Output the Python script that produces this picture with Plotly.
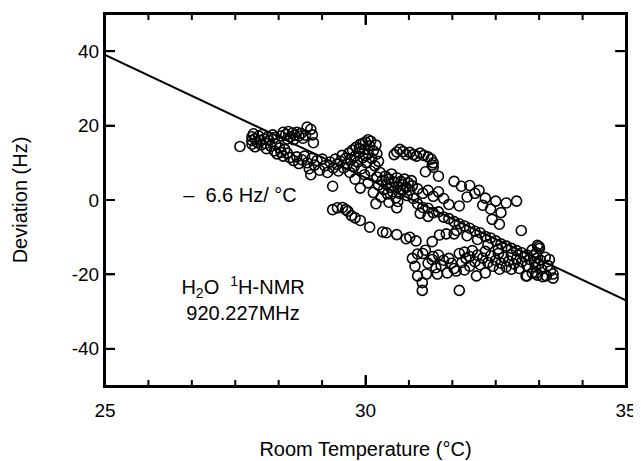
import plotly.graph_objects as go

# ---- measured data (room temperature in degC, deviation in Hz) ----
temp_c = [
    27.59, 27.82, 27.82, 27.82, 27.85, 27.88, 27.88, 27.92, 27.95, 27.98,
    28.00, 28.02, 28.05, 28.08, 28.10, 28.12, 28.15, 28.18, 28.22, 28.25,
    28.28, 28.30, 28.35, 28.38, 28.42, 28.45, 28.50, 28.55, 28.25,
    28.38, 28.42, 28.47, 28.52, 28.56, 28.60, 28.64, 28.68, 28.72, 28.76,
    28.80, 28.85, 28.88, 28.95, 28.98, 29.00, 28.62, 28.50,
    28.62, 28.68, 28.72, 28.78, 28.83, 28.88, 28.92, 28.97, 29.02, 29.07,
    29.12, 29.17, 29.22, 29.27, 28.95, 29.32, 29.38, 29.42, 29.45, 29.48,
    29.52, 29.55, 29.58, 29.62, 29.65, 29.68, 29.70, 29.72, 29.75, 29.78,
    29.80, 29.82, 29.85, 29.88, 29.90, 29.92, 29.95, 29.98, 30.00, 30.02,
    30.05, 30.08, 30.10, 30.12, 30.15, 30.18, 30.20, 29.95, 30.05, 29.88,
    30.00, 30.22, 30.25, 29.37,
    30.55, 30.60, 30.66, 30.72, 30.78, 30.85, 30.92, 30.98, 31.05, 31.12,
    31.20, 31.26, 31.30, 31.30, 31.15, 31.40, 31.28,
    30.22, 30.25, 30.28, 30.32, 30.35, 30.38, 30.40, 30.42, 30.45, 30.48,
    30.50, 30.52, 30.55, 30.58, 30.60, 30.62, 30.65, 30.68, 30.70, 30.72,
    30.75, 30.78, 30.80, 30.82, 30.85, 30.88, 30.90, 30.92, 30.62, 30.45,
    30.30, 30.15, 30.05, 29.98, 29.90, 29.80, 30.10, 30.20, 30.60,
    29.37, 29.46, 29.56, 29.62, 29.66, 29.73, 29.80, 29.90, 30.08, 30.33,
    30.60, 30.78, 30.97, 31.28, 31.42, 31.55, 31.70, 30.40, 30.85,
    30.90, 30.95, 31.00, 31.09, 31.09, 31.10, 31.28, 31.17, 31.38, 31.57,
    31.74, 31.80, 31.60, 31.80, 31.93, 32.13, 32.30, 32.57, 32.80, 33.08,
    33.28, 33.47, 33.60, 33.53, 33.33, 32.99,
    31.00, 31.10, 31.20, 31.30, 31.40, 31.50, 31.60, 31.70, 31.80, 31.90,
    32.00, 32.10, 32.20, 32.30, 32.40, 32.50, 32.60, 32.70, 32.80, 32.90,
    33.00, 33.10, 32.35, 32.55, 32.15, 31.95, 31.75, 32.43, 32.57,
    31.00, 31.10, 31.20, 31.30, 31.40, 31.50, 31.70, 31.84, 32.00, 32.10,
    32.18, 31.80, 32.30, 32.50, 32.70, 32.90, 31.95, 32.25, 32.40, 32.60,
    31.60, 31.05, 31.20,
    31.00, 31.15, 31.30, 31.20, 31.35, 31.40, 31.50, 31.45, 31.65, 31.70,
    31.85, 31.90, 32.00, 31.90, 32.00, 32.05, 32.10, 32.15, 32.20, 32.25,
    32.30, 32.35, 32.40, 32.45, 32.50, 32.55, 32.60, 32.65, 32.70, 32.75,
    32.80, 32.85, 32.90, 32.95, 33.00, 33.05, 33.10, 33.15, 33.20, 33.22,
    33.24, 33.26, 33.28, 33.30, 33.32, 33.34, 33.36, 33.38, 33.30, 33.45,
    33.50, 33.55, 33.60, 33.40, 33.20, 33.10, 33.30,
]

deviation_hz = [
    14.4, 17.0, 16.0, 15.0, 17.8, 16.5, 14.3, 15.5, 17.2, 16.0,
    14.8, 17.6, 16.4, 15.2, 13.8, 17.0, 16.0, 14.5, 17.5, 13.2,
    15.0, 12.4, 14.0, 12.8, 11.8, 13.6, 12.6, 11.4, 16.8,
    17.2, 18.2, 17.6, 18.4, 17.0, 18.0, 17.4, 18.2, 17.2, 17.9,
    16.6, 17.4, 19.6, 19.0, 17.5, 15.4, 16.2, 16.4,
    10.6, 11.6, 9.8, 10.8, 11.8, 10.0, 8.4, 11.2, 9.4, 10.6,
    8.0, 11.0, 9.2, 7.4, 6.8, 10.2, 8.6, 11.0, 9.6, 7.8,
    10.4, 12.0, 8.6, 11.2, 9.6, 12.6, 7.4, 10.8, 13.4, 9.0,
    11.8, 14.2, 10.2, 12.8, 15.0, 8.4, 11.4, 13.6, 15.6, 10.0,
    12.4, 14.6, 15.8, 11.2, 13.2, 9.2, 14.8, 15.2, 16.2, 13.8,
    12.0, 12.4, 10.4, 3.7,
    12.2, 12.9, 13.6, 13.0, 12.2, 12.8, 12.2, 11.8, 12.6, 12.0,
    11.6, 11.0, 10.0, 8.8, 7.6, 6.4, 9.4,
    6.2, 4.0, 7.4, 5.2, 2.8, 6.4, 4.2, 1.6, 5.6, 3.4,
    7.0, 2.2, 4.8, 0.6, 6.0, 3.6, 1.8, 5.0, 4.2, 2.8,
    5.6, 3.4, 1.2, 4.6, 2.6, 5.2, 3.8, 0.4, -0.4, -0.6,
    0.8, 2.0, 4.6, 6.8, 3.2, 5.6, 7.8, -1.0, -2.1,
    -2.6, -2.1, -2.0, -2.6, -3.0, -4.2, -4.8, -5.5, -7.3, -8.6,
    -9.3, -10.4, -11.0, -11.2, -9.4, -9.1, -9.1, -8.8, -10.0,
    -15.7, -17.8, -20.4, -22.2, -24.3, -14.4, -16.0, -19.9, -19.9, -19.6,
    -19.1, -24.3, -15.7, -14.4, -15.7, -20.4, -19.6, -18.6, -18.6, -20.4,
    -19.6, -20.4, -19.9, -16.0, -12.5, -8.2,
    -1.0, -2.0, -2.2, -3.4, -3.2, -4.6, -5.0, -5.8, -6.4, -7.0,
    -7.6, -8.4, -8.8, -9.8, -10.2, -11.0, -11.8, -12.4, -13.0, -13.6,
    -14.2, -14.8, -12.0, -13.2, -10.6, -9.6, -8.2, -5.2, -6.5,
    3.0, 1.8, 2.6, 1.0, 2.2, 0.4, 5.0, 3.7, 3.9, 1.8,
    2.6, -1.6, 0.5, -0.3, -0.8, -0.3, 0.8, -1.4, -2.4, -3.4,
    -1.2, -3.6, -4.4,
    -14.5, -13.5, -15.2, -17.0, -18.2, -14.8, -16.2, -17.6, -17.0, -18.4,
    -16.8, -18.8, -17.8, -14.0, -15.2, -13.6, -16.6, -14.8, -17.4, -15.6,
    -13.8, -16.8, -15.0, -17.8, -16.2, -14.4, -17.0, -15.4, -18.0, -16.4,
    -14.8, -17.2, -15.8, -18.4, -16.6, -15.2, -17.6, -16.0, -13.4, -15.0,
    -16.6, -18.0, -14.2, -15.6, -17.2, -13.0, -16.2, -18.6, -12.2, -15.4,
    -17.6, -19.0, -21.0, -20.6, -19.6, -20.4, -20.2,
]

# linear fit, -6.6 Hz per degC
fit_temp = [25, 35]
fit_dev = [39, -27]

x_major_ticks = [25, 30, 35]
x_minor_ticks = [25.8333, 26.6667, 27.5, 28.3333, 29.1667,
                 30.8333, 31.6667, 32.5, 33.3333, 34.1667]
y_major_ticks = [-40, -20, 0, 20, 40]
y_tick_labels = ["-40", "-20", "0", "20", "40"]

# in-plot labels (text, position in data units)
label_texts = ["–  6.6 Hz/ °C", "H<sub>2</sub>O  <sup>1</sup>H-NMR<br>920.227MHz"]
label_temp = [27.59, 27.65]
label_dev = [0.7, -27.4]

FONT = "Liberation Sans, Arial, sans-serif"

fig = go.Figure()
fig.add_trace(go.Scatter(
    x=fit_temp, y=fit_dev, mode="lines",
    line=dict(color="black", width=2), showlegend=False,
))
fig.add_trace(go.Scatter(
    x=temp_c, y=deviation_hz, mode="markers",
    marker=dict(symbol="circle-open", size=10, color="black",
                line=dict(color="black", width=1.6)),
    showlegend=False,
))
fig.add_trace(go.Scatter(
    x=label_temp, y=label_dev, mode="text", text=label_texts,
    textposition="middle center",
    textfont=dict(family=FONT, size=20, color="black"),
    showlegend=False, hoverinfo="skip",
))

# frame and inward ticks on all four sides, drawn as layout shapes
frame = dict(type="rect", xref="paper", yref="paper", x0=0, x1=1, y0=0, y1=1,
             line=dict(color="black", width=2), fillcolor="rgba(0,0,0,0)")
shapes = [frame]
for v in x_major_ticks + x_minor_ticks:
    ln = 0.029 if v in x_major_ticks else 0.016
    for y0, y1 in ((0, ln), (1, 1 - ln)):
        shapes.append(dict(type="line", xref="x", yref="paper", x0=v, x1=v,
                           y0=y0, y1=y1, line=dict(color="black", width=2)))
for v in y_major_ticks:
    for x0, x1 in ((0, 0.019), (1, 1 - 0.021)):
        shapes.append(dict(type="line", xref="paper", yref="y", x0=x0, x1=x1,
                           y0=v, y1=v, line=dict(color="black", width=2)))

fig.update_layout(
    width=633, height=453,
    margin=dict(l=97, r=14, t=4, b=69),
    plot_bgcolor="white", paper_bgcolor="white",
    font=dict(family=FONT, size=19, color="black"),
    shapes=shapes,
    xaxis=dict(
        range=[25, 35], tickvals=x_major_ticks, ticks="inside", ticklen=11,
        tickwidth=2, tickcolor="black", showline=True, linecolor="black",
        linewidth=2, mirror="allticks", showgrid=False, zeroline=False,
        ticklabelstandoff=6,
        title=dict(text="Room Temperature (°C)", font=dict(size=20), standoff=22),
    ),
    yaxis=dict(
        range=[-50, 50], tickvals=y_major_ticks, ticktext=y_tick_labels,
        ticks="inside", ticklen=10,
        tickwidth=2, tickcolor="black", showline=True, linecolor="black",
        linewidth=2, mirror="allticks", showgrid=False, zeroline=False,
        title=dict(text="Deviation (Hz)", font=dict(size=20), standoff=39),
    ),
)

fig.write_html("out.html")
